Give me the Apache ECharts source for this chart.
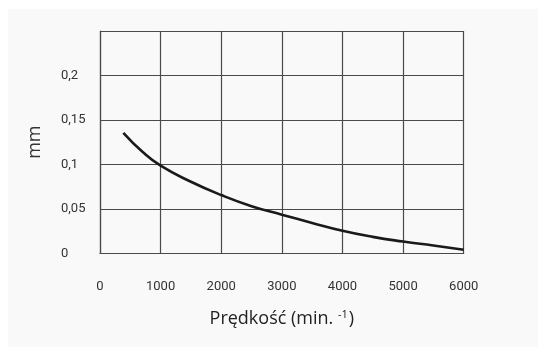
<!DOCTYPE html>
<html>
<head>
<meta charset="utf-8">
<script src="https://cdn.jsdelivr.net/npm/echarts@6/dist/echarts.min.js"></script>
<style>
html,body{margin:0;padding:0;background:#ffffff;width:538px;height:347px;overflow:hidden;}
#c{position:absolute;left:8px;top:9px;width:530px;height:338px;background:#f9f9f9;}
</style>
</head>
<body>
<div id="c"></div>
<script>
const speed = [385, 700, 1000, 1500, 2000, 2500, 3000, 3500, 4000, 4500, 5000, 5500, 6000];
const depth = [0.1355, 0.1142, 0.0985, 0.0805, 0.0655, 0.053, 0.0434, 0.0342, 0.0254, 0.0185, 0.0132, 0.0087, 0.004];
const xTicks = [0, 1000, 2000, 3000, 4000, 5000, 6000];
const yTicks = ['0', '0,05', '0,1', '0,15', '0,2'];
const xName = 'Prędkość (min. ';
const xNameSup = '-1';
const yName = 'mm';

const chart = echarts.init(document.getElementById('c'), null, {renderer: 'canvas'});
const tickFont = 'Roboto, sans-serif';
const gridColor = '#4a4a4a';
chart.setOption({
  backgroundColor: '#f9f9f9',
  animation: false,
  grid: {left: 92, top: 22, right: 74.3, bottom: 93.7, containLabel: false},
  xAxis: {
    type: 'value', min: 0, max: 6000, interval: 1000,
    name: '{n|' + xName + '}{s|' + xNameSup + '}{n|)}',
    nameLocation: 'middle', nameGap: 56,
    nameTextStyle: {
      rich: {
        n: {fontFamily: '"Open Sans", sans-serif', fontSize: 18, color: '#222'},
        s: {fontFamily: '"Open Sans", sans-serif', fontSize: 11, color: '#222', verticalAlign: 'top', padding: [0, 1, 9, 0]}
      }
    },
    axisLine: {show: true, lineStyle: {color: gridColor, width: 1.2}},
    axisTick: {show: false},
    splitLine: {show: true, lineStyle: {color: gridColor, width: 1.2}},
    axisLabel: {
      margin: 27, fontFamily: tickFont, fontSize: 13, color: '#333',
      formatter: function (v) { return xTicks.indexOf(v) >= 0 ? String(v) : ''; }
    }
  },
  yAxis: {
    type: 'value', min: 0, max: 0.25, interval: 0.05,
    name: yName, nameLocation: 'middle', nameGap: 56,
    nameTextStyle: {fontFamily: '"Open Sans", sans-serif', fontSize: 18, color: '#333'},
    axisLine: {show: true, lineStyle: {color: gridColor, width: 1.2}},
    axisTick: {show: false},
    splitLine: {show: true, lineStyle: {color: gridColor, width: 1.2}},
    axisLabel: {
      margin: 39, align: 'left', fontFamily: tickFont, fontSize: 13, color: '#333',
      formatter: function (v) {
        const i = Math.round(v / 0.05);
        return i < yTicks.length ? yTicks[i] : '';
      }
    }
  },
  series: [{
    type: 'line',
    data: speed.map((s, i) => [s, depth[i]]),
    smooth: 0.5,
    showSymbol: false,
    lineStyle: {color: '#1a1a1a', width: 2.6}
  }]
});
</script>
</body>
</html>
